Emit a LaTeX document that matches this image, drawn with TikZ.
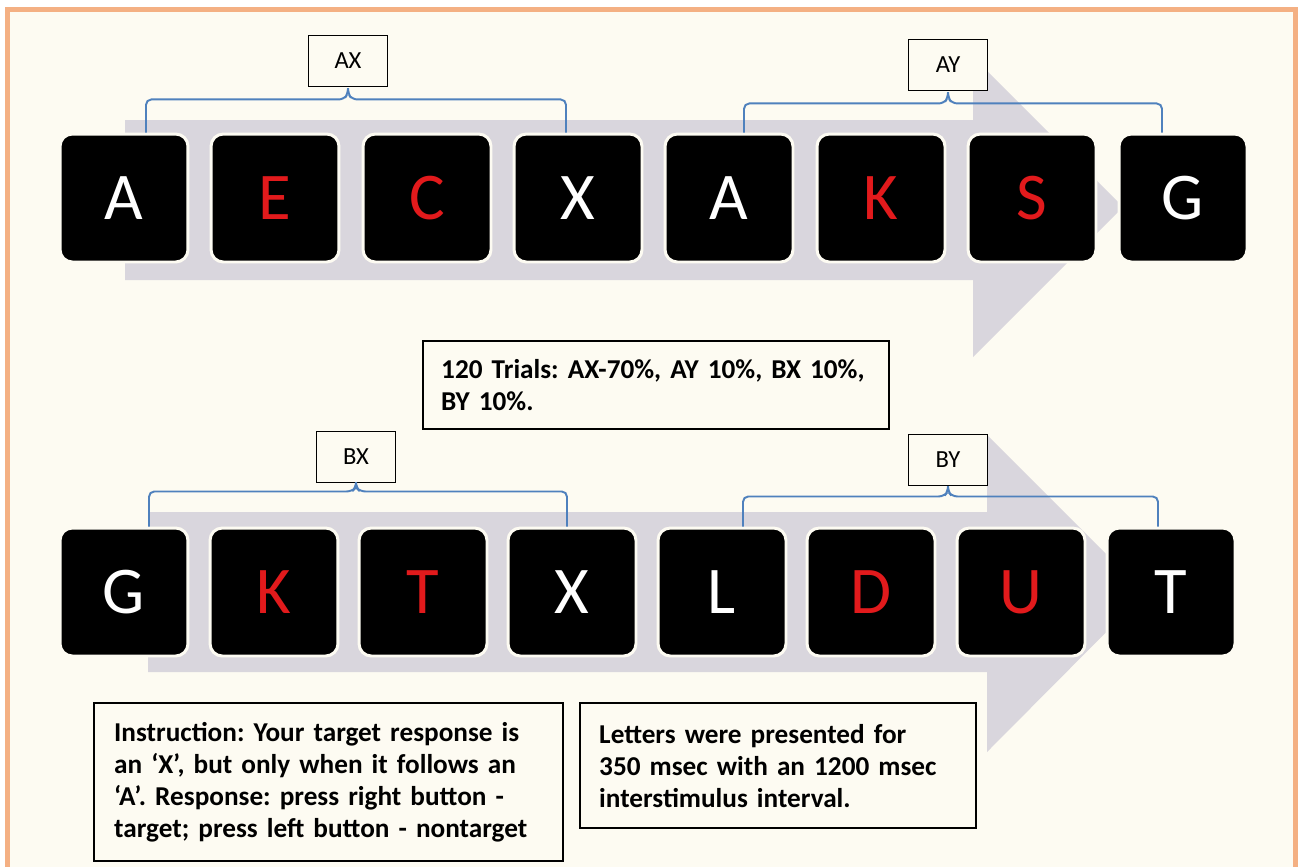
\documentclass[tikz,border=0pt]{standalone}
\usepackage{fontspec}
\setmainfont{Carlito}
\usepackage{tikz}
\usetikzlibrary{calc}
\definecolor{bgcream}{RGB}{253,251,242}
\definecolor{frameorange}{RGB}{244,176,131}
\definecolor{arrowgray}{RGB}{217,214,221}
\definecolor{bracketblue}{RGB}{79,129,189}
\definecolor{foilred}{RGB}{226,26,28}
\frenchspacing

\begin{document}
\begin{tikzpicture}[x=0.02cm, y=-0.02cm,
  tile/.style={fill=black, draw=bgcream, line width=1.7pt, rounded corners=7pt,
    minimum size=2.56cm, inner sep=0pt, text=white, font=\fontsize{38}{40}\selectfont},
  foil/.style={tile, text=foilred},
  tag/.style={draw=black, fill=bgcream, line width=1.1pt, minimum width=1.58cm,
    minimum height=1.02cm, inner sep=0pt, font=\fontsize{14}{16}\selectfont},
  info/.style={draw=black, fill=bgcream, line width=1.4pt, align=left, anchor=north west,
    inner sep=0pt, font=\fontsize{15.5}{18.3}\selectfont\bfseries},
  brace/.style={draw=bracketblue, line width=1.1pt, rounded corners=3pt}]
  \clip (0,0) rectangle (1298,866);
  \fill[white] (0,0) rectangle (1298,866);
  \draw[frameorange, line width=2.8pt, fill=bgcream] (7.5,880) -- (7.5,9.5) -- (1295.5,9.5) -- (1295.5,880);

  % background arrows
  \fill[arrowgray] (125,120) -- (973,120) -- (973,57) -- (1123,207) -- (973,357) -- (973,280) -- (125,280) -- cycle;
  \fill[arrowgray] (148,512) -- (987,512) -- (987,435) -- (1145,593) -- (987,752) -- (987,672) -- (148,672) -- cycle;

  % upper sequence
  \node[tile] (u1) at (124,198) {A};
  \node[foil] (u2) at (275,198) {E};
  \node[foil] (u3) at (427,198) {C};
  \node[tile] (u4) at (578,198) {X};
  \node[tile] (u5) at (729,198) {A};
  \node[foil] (u6) at (881,198) {K};
  \node[foil] (u7) at (1032,198) {S};
  \node[tile] (u8) at (1183,198) {G};

  % lower sequence
  \node[tile] (l1) at (124,592) {G};
  \node[foil] (l2) at (274,592) {K};
  \node[foil] (l3) at (423,592) {T};
  \node[tile] (l4) at (572,592) {X};
  \node[tile] (l5) at (722,592) {L};
  \node[foil] (l6) at (871,592) {D};
  \node[foil] (l7) at (1021,592) {U};
  \node[tile] (l8) at (1171,592) {T};

  \node[tag] (axtag) at (348,61) {AX};
  \node[tag] (aytag) at (948,65) {AY};
  \node[tag] (bxtag) at (356,457) {BX};
  \node[tag] (bytag) at (948,460) {BY};

  \draw[brace] ($(u1.north)+(22,0)$) |- ($(axtag.south)+(-4,12)$) -- ($(axtag.south)+(0,6)$) -- (axtag.south)
    -- ($(axtag.south)+(0,6)$) -- ($(axtag.south)+(4,12)$) -| ($(u4.north)+(-12,0)$);
  \draw[brace] ($(u5.north)+(15,0)$) |- ($(aytag.south)+(-4,12)$) -- ($(aytag.south)+(0,6)$) -- (aytag.south)
    -- ($(aytag.south)+(0,6)$) -- ($(aytag.south)+(4,12)$) -| ($(u8.north)+(-21,0)$);
  \draw[brace] ($(l1.north)+(25,0)$) |- ($(bxtag.south)+(-4,8)$) -- ($(bxtag.south)+(0,4)$) -- (bxtag.south)
    -- ($(bxtag.south)+(0,4)$) -- ($(bxtag.south)+(4,8)$) -| ($(l4.north)+(-5,0)$);
  \draw[brace] ($(l5.north)+(21,0)$) |- ($(bytag.south)+(-4,10)$) -- ($(bytag.south)+(0,5)$) -- (bytag.south)
    -- ($(bytag.south)+(0,5)$) -- ($(bytag.south)+(4,10)$) -| ($(l8.north)+(-13,0)$);

  % notes
  \node[info, minimum width=9.32cm, minimum height=1.76cm, text width=8.6cm, inner xsep=0.36cm] (trials) at (422,340)
    {120 Trials: AX-70\%, AY 10\%, BX 10\%,\\BY 10\%.};
  \node[info, minimum width=9.38cm, minimum height=3.16cm, text width=8.58cm, inner xsep=0.4cm] (instr) at (93,702)
    {Instruction: Your target response is\\an ‘X’, but only when it follows an\\‘A’. Response: press right button -\\target; press left button - nontarget};
  \node[info, minimum width=7.92cm, minimum height=2.5cm, text width=7.16cm, inner xsep=0.38cm] (timing) at (579,702)
    {Letters were presented for\\350 msec with an 1200 msec\\interstimulus interval.};
\end{tikzpicture}
\end{document}
